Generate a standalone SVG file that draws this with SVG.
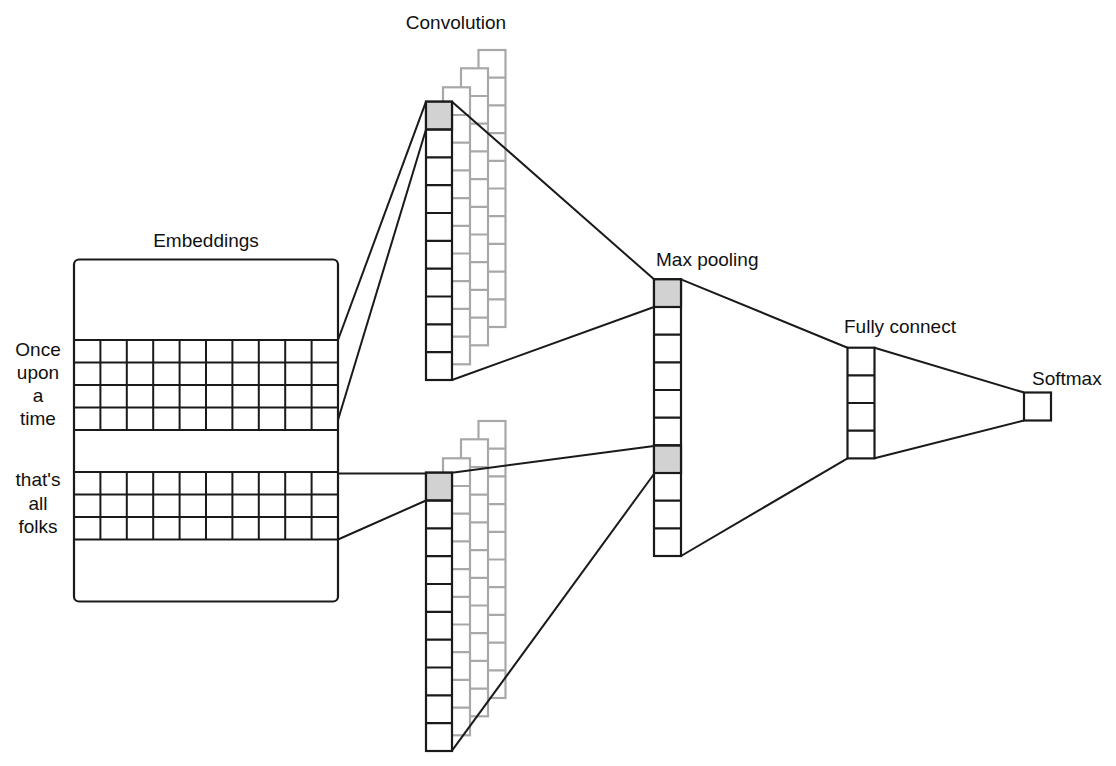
<svg xmlns="http://www.w3.org/2000/svg" width="1116" height="766" viewBox="0 0 1116 766">
<defs>
<style>
text{font-family:"Liberation Sans",Arial,sans-serif;font-size:19px;fill:#111}
.blk{fill:#fff;stroke:#1a1a1a;stroke-width:2.2}
.gry{fill:#fff;stroke:#a8a8a8;stroke-width:2.2}
.hl{fill:#d2d2d2;stroke:#1a1a1a;stroke-width:2.2}
.gl{stroke:#1a1a1a;stroke-width:2;fill:none}
.con line{stroke:#1a1a1a;stroke-width:2}
</style>
<g id="gcol">
<rect class="gry" x="0" y="0" width="27" height="277"/>
<path class="gry" d="M0 27.7H27M0 55.4H27M0 83.1H27M0 110.8H27M0 138.5H27M0 166.2H27M0 193.9H27M0 221.6H27M0 249.3H27"/>
</g>
<g id="fcol">
<rect class="blk" x="0" y="0" width="26" height="278.3"/>
<rect class="hl" x="0" y="0" width="26" height="27.8"/>
<path class="gl" d="M0 27.8H26M0 55.7H26M0 83.5H26M0 111.3H26M0 139.2H26M0 167H26M0 194.8H26M0 222.6H26M0 250.5H26" style="stroke-width:2.2"/>
</g>
</defs>
<rect width="1116" height="766" fill="#fff"/>

<g id="embeddings">
<text x="206" y="247" text-anchor="middle">Embeddings</text>
<rect class="blk" x="74" y="259.5" width="264" height="342" rx="5"/>
<path class="gl" d="M74 340H338M74 362.5H338M74 385H338M74 407.5H338M74 430H338M74 472H338M74 494.5H338M74 517H338M74 539.5H338"/>
<path class="gl" d="M100.4 340V430M126.8 340V430M153.2 340V430M179.6 340V430M206 340V430M232.4 340V430M258.8 340V430M285.2 340V430M311.6 340V430M100.4 472V539.5M126.8 472V539.5M153.2 472V539.5M179.6 472V539.5M206 472V539.5M232.4 472V539.5M258.8 472V539.5M285.2 472V539.5M311.6 472V539.5"/>
<text x="38" y="356" text-anchor="middle">Once</text>
<text x="38" y="379" text-anchor="middle">upon</text>
<text x="38" y="402" text-anchor="middle">a</text>
<text x="38" y="425" text-anchor="middle">time</text>
<text x="38" y="486" text-anchor="middle">that's</text>
<text x="38" y="510" text-anchor="middle">all</text>
<text x="38" y="533" text-anchor="middle">folks</text>
</g>

<g id="conv-top">
<text x="456" y="29" text-anchor="middle">Convolution</text>
<use href="#gcol" x="478.5" y="50"/>
<use href="#gcol" x="461" y="68.3"/>
<use href="#gcol" x="443" y="87.3"/>
<use href="#fcol" x="426" y="101.7"/>
</g>

<g id="conv-bottom">
<use href="#gcol" x="478.5" y="421"/>
<use href="#gcol" x="461" y="439.3"/>
<use href="#gcol" x="443" y="458.3"/>
<use href="#fcol" x="426" y="472.7"/>
</g>

<g id="max-pooling">
<text x="656" y="266">Max pooling</text>
<rect class="blk" x="654" y="279.3" width="27" height="276.7"/>
<rect class="hl" x="654" y="279.3" width="27" height="27.7"/>
<rect class="hl" x="654" y="445.3" width="27" height="27.7"/>
<path class="gl" d="M654 307H681M654 334.7H681M654 362.3H681M654 390H681M654 417.7H681M654 445.3H681M654 473H681M654 500.7H681M654 528.3H681" style="stroke-width:2.2"/>
</g>

<g id="fully-connect">
<text x="844" y="333">Fully connect</text>
<rect class="blk" x="847.5" y="347.7" width="27" height="110.7"/>
<path class="gl" d="M847.5 375.4H874.5M847.5 403H874.5M847.5 430.7H874.5" style="stroke-width:2.2"/>
</g>

<g id="softmax">
<text x="1032" y="385">Softmax</text>
<rect class="blk" x="1024" y="392.5" width="27" height="28"/>
</g>

<g id="connectors" class="con">
<line x1="338" y1="340" x2="426" y2="101.7"/>
<line x1="338" y1="420" x2="426" y2="129.5"/>
<line x1="452" y1="101.7" x2="654" y2="279.3"/>
<line x1="452" y1="380" x2="654" y2="307"/>
<line x1="338" y1="473.5" x2="426" y2="473.5"/>
<line x1="338" y1="539.5" x2="426" y2="500.5"/>
<line x1="452" y1="472.7" x2="654" y2="446"/>
<line x1="452" y1="750.7" x2="654" y2="474"/>
<line x1="681" y1="279.3" x2="847.5" y2="347.7"/>
<line x1="681" y1="556" x2="847.5" y2="458.3"/>
<line x1="874.5" y1="347.7" x2="1024" y2="392.5"/>
<line x1="874.5" y1="458.3" x2="1024" y2="420.5"/>
</g>
</svg>
